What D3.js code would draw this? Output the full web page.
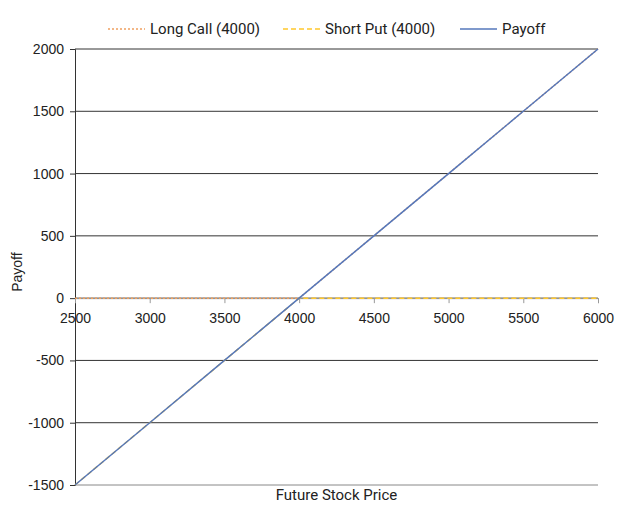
<!DOCTYPE html>
<html>
<head>
<meta charset="utf-8">
<script src="https://cdn.jsdelivr.net/npm/d3@7"></script>
<style>
  body { margin: 0; background: #fff; }
  text { fill: #222; }
</style>
</head>
<body>
<div id="chart"></div>
<script>
const prices = [2500, 3000, 3500, 4000, 4500, 5000, 5500, 6000];
const longCall = [0, 0, 0, 0, 500, 1000, 1500, 2000];
const shortPut = [-1500, -1000, -500, 0, 0, 0, 0, 0];
const payoff = [-1500, -1000, -500, 0, 500, 1000, 1500, 2000];
const seriesNames = ['Long Call (4000)', 'Short Put (4000)', 'Payoff'];
const yTicks = [-1500, -1000, -500, 0, 500, 1000, 1500, 2000];

const width = 618, height = 505;
const margin = { top: 49, right: 20, bottom: 20, left: 75 };

const svg = d3.select('#chart').append('svg').attr('width', width).attr('height', height);

const x = d3.scaleLinear().domain([2500, 6000]).range([margin.left, width - margin.right]);
const y = d3.scaleLinear().domain([-1500, 2000]).range([height - margin.bottom, margin.top]);

// Gridlines
svg.append('g')
	.selectAll('line')
	.data(yTicks)
	.enter()
	.append('line')
	.attr('x1', x(2500))
	.attr('x2', x(6000))
	.attr('y1', (d) => y(d))
	.attr('y2', (d) => y(d))
	.attr('stroke', (d) => (d === -1500 ? '#888' : '#333'))
	.attr('stroke-width', 1);

// Y axis
const yAxis = svg.append('g')
	.attr('transform', `translate(${x(2500)},0)`)
	.call(d3.axisLeft(y).tickValues(yTicks).tickFormat((d) => String(d)).tickSize(5).tickPadding(6));
yAxis.attr('font-family', 'Liberation Sans, Arial, sans-serif').attr('font-size', 14);
yAxis.select('.domain').attr('stroke', '#333');
yAxis.selectAll('line').attr('stroke', '#333');
yAxis.selectAll('text').attr('fill', '#222');

// X axis at zero
const xAxis = svg.append('g')
	.attr('transform', `translate(0,${y(0)})`)
	.call(d3.axisBottom(x).tickValues(prices).tickFormat((d) => String(d)).tickSize(5).tickPadding(10));
xAxis.attr('font-family', 'Liberation Sans, Arial, sans-serif').attr('font-size', 14);
xAxis.select('.domain').attr('stroke', '#999');
xAxis.selectAll('line').attr('stroke', '#999');
xAxis.selectAll('text').attr('fill', '#222');

// Lines
const series = [
	{ values: longCall, color: '#f0a060', dash: '2,2', width: 1.5 },
	{ values: shortPut, color: '#ffc72c', dash: '5,3', width: 1.5 },
	{ values: payoff, color: '#5577bb', dash: null, width: 1.5 },
];

const line = d3.line()
	.x((d, i) => x(prices[i]))
	.y((d) => y(d));

series.forEach((s) => {
	svg.append('path')
		.datum(s.values)
		.attr('d', line)
		.attr('fill', 'none')
		.attr('stroke', s.color)
		.attr('stroke-width', s.width)
		.attr('stroke-dasharray', s.dash);
});

// Legend
const legendX = [108, 283, 460];
const legend = svg.append('g');
series.forEach((s, i) => {
	legend.append('line')
		.attr('x1', legendX[i])
		.attr('x2', legendX[i] + 37)
		.attr('y1', 29)
		.attr('y2', 29)
		.attr('stroke', s.color)
		.attr('stroke-width', 1.5)
		.attr('stroke-dasharray', s.dash);
	legend.append('text')
		.attr('x', legendX[i] + 42)
		.attr('y', 34)
		.style('font-family', 'Roboto, sans-serif')
		.style('font-size', '15px')
		.text(seriesNames[i]);
});

// Axis titles
svg.append('text')
	.attr('x', (x(2500) + x(6000)) / 2)
	.attr('y', 500)
	.attr('text-anchor', 'middle')
	.style('font-family', 'Roboto, sans-serif')
	.style('font-size', '15px')
	.text('Future Stock Price');

svg.append('text')
	.attr('transform', `translate(22,${y(0) - 26}) rotate(-90)`)
	.attr('text-anchor', 'middle')
	.style('font-family', 'Liberation Sans, Arial, sans-serif')
	.style('font-size', '14px')
	.text('Payoff');
</script>
</body>
</html>
